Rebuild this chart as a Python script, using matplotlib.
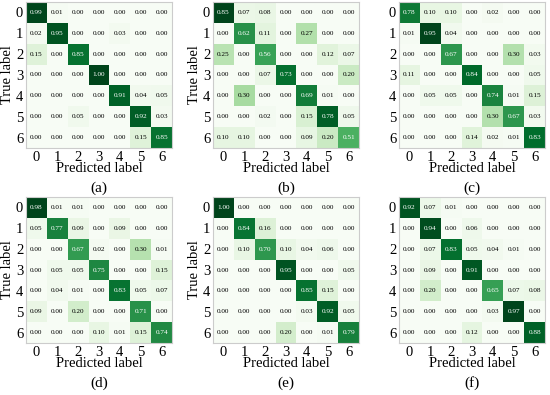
import numpy as np
import matplotlib
matplotlib.use("Agg")
import matplotlib.pyplot as plt

classes = ["0", "1", "2", "3", "4", "5", "6"]
panel_labels = ["(a)", "(b)", "(c)", "(d)", "(e)", "(f)"]

cm_a = [[0.99, 0.01, 0.00, 0.00, 0.00, 0.00, 0.00],
        [0.02, 0.95, 0.00, 0.00, 0.03, 0.00, 0.00],
        [0.15, 0.00, 0.85, 0.00, 0.00, 0.00, 0.00],
        [0.00, 0.00, 0.00, 1.00, 0.00, 0.00, 0.00],
        [0.00, 0.00, 0.00, 0.00, 0.91, 0.04, 0.05],
        [0.00, 0.00, 0.05, 0.00, 0.00, 0.92, 0.03],
        [0.00, 0.00, 0.00, 0.00, 0.00, 0.15, 0.85]]
cm_b = [[0.85, 0.07, 0.08, 0.00, 0.00, 0.00, 0.00],
        [0.00, 0.62, 0.11, 0.00, 0.27, 0.00, 0.00],
        [0.25, 0.00, 0.56, 0.00, 0.00, 0.12, 0.07],
        [0.00, 0.00, 0.07, 0.73, 0.00, 0.00, 0.20],
        [0.00, 0.30, 0.00, 0.00, 0.69, 0.01, 0.00],
        [0.00, 0.00, 0.02, 0.00, 0.15, 0.78, 0.05],
        [0.10, 0.10, 0.00, 0.00, 0.09, 0.20, 0.51]]
cm_c = [[0.78, 0.10, 0.10, 0.00, 0.02, 0.00, 0.00],
        [0.01, 0.95, 0.04, 0.00, 0.00, 0.00, 0.00],
        [0.00, 0.00, 0.67, 0.00, 0.00, 0.30, 0.03],
        [0.11, 0.00, 0.00, 0.84, 0.00, 0.00, 0.05],
        [0.00, 0.05, 0.05, 0.00, 0.74, 0.01, 0.15],
        [0.00, 0.00, 0.00, 0.00, 0.30, 0.67, 0.03],
        [0.00, 0.00, 0.00, 0.14, 0.02, 0.01, 0.83]]
cm_d = [[0.98, 0.01, 0.01, 0.00, 0.00, 0.00, 0.00],
        [0.05, 0.77, 0.09, 0.00, 0.09, 0.00, 0.00],
        [0.00, 0.00, 0.67, 0.02, 0.00, 0.30, 0.01],
        [0.00, 0.05, 0.05, 0.75, 0.00, 0.00, 0.15],
        [0.00, 0.04, 0.01, 0.00, 0.83, 0.05, 0.07],
        [0.09, 0.00, 0.20, 0.00, 0.00, 0.71, 0.00],
        [0.00, 0.00, 0.00, 0.10, 0.01, 0.15, 0.74]]
cm_e = [[1.00, 0.00, 0.00, 0.00, 0.00, 0.00, 0.00],
        [0.00, 0.84, 0.16, 0.00, 0.00, 0.00, 0.00],
        [0.00, 0.10, 0.70, 0.10, 0.04, 0.06, 0.00],
        [0.00, 0.00, 0.00, 0.95, 0.00, 0.00, 0.05],
        [0.00, 0.00, 0.00, 0.00, 0.85, 0.15, 0.00],
        [0.00, 0.00, 0.00, 0.00, 0.03, 0.92, 0.05],
        [0.00, 0.00, 0.00, 0.20, 0.00, 0.01, 0.79]]
cm_f = [[0.92, 0.07, 0.01, 0.00, 0.00, 0.00, 0.00],
        [0.00, 0.94, 0.00, 0.06, 0.00, 0.00, 0.00],
        [0.00, 0.07, 0.83, 0.05, 0.04, 0.01, 0.00],
        [0.00, 0.09, 0.00, 0.91, 0.00, 0.00, 0.00],
        [0.00, 0.20, 0.00, 0.00, 0.65, 0.07, 0.08],
        [0.00, 0.00, 0.00, 0.00, 0.03, 0.97, 0.00],
        [0.00, 0.00, 0.00, 0.12, 0.00, 0.00, 0.88]]

matrices = [cm_a, cm_b, cm_c, cm_d, cm_e, cm_f]

plt.rcParams['font.family'] = ['Liberation Serif', 'DejaVu Serif']

W, H = 550, 395
fig = plt.figure(figsize=(5.5, 3.95), dpi=100)

lefts = [26, 213, 399]
tops = [2, 197]
size = 146

for idx, cm in enumerate(matrices):
    r, c = divmod(idx, 3)
    x0 = lefts[c]
    y0 = tops[r]
    ax = fig.add_axes([x0 / W, 1 - (y0 + size) / H, size / W, size / H])
    m = np.array(cm)
    vmax = m.max()
    ax.imshow(m, cmap="Greens", vmin=0, vmax=vmax, aspect="auto")
    thresh = vmax / 2
    for i in range(m.shape[0]):
        for j in range(m.shape[1]):
            col = "white" if m[i, j] > thresh else "black"
            ax.text(j, i, f"{m[i, j]:.2f}", ha="center", va="center",
                    fontsize=5.2, color=col)
    ax.set_xticks(range(len(classes)))
    ax.set_yticks(range(len(classes)))
    ax.set_xticklabels(classes, fontsize=10.5)
    ax.set_yticklabels(classes, fontsize=10.5)
    ax.tick_params(length=0, pad=2)
    ax.set_xlabel("Predicted label", fontsize=10.5, labelpad=-1)
    if c == 0 or c == 1:
        ax.set_ylabel("True label", fontsize=10.5, labelpad=1)
    for sp in ax.spines.values():
        sp.set_color("#cccccc")
        sp.set_linewidth(0.8)
    fig.text((x0 + size / 2) / W, 1 - (y0 + 186) / H, panel_labels[idx],
             ha="center", va="center", fontsize=11)

fig.savefig("out.png", dpi=100)
